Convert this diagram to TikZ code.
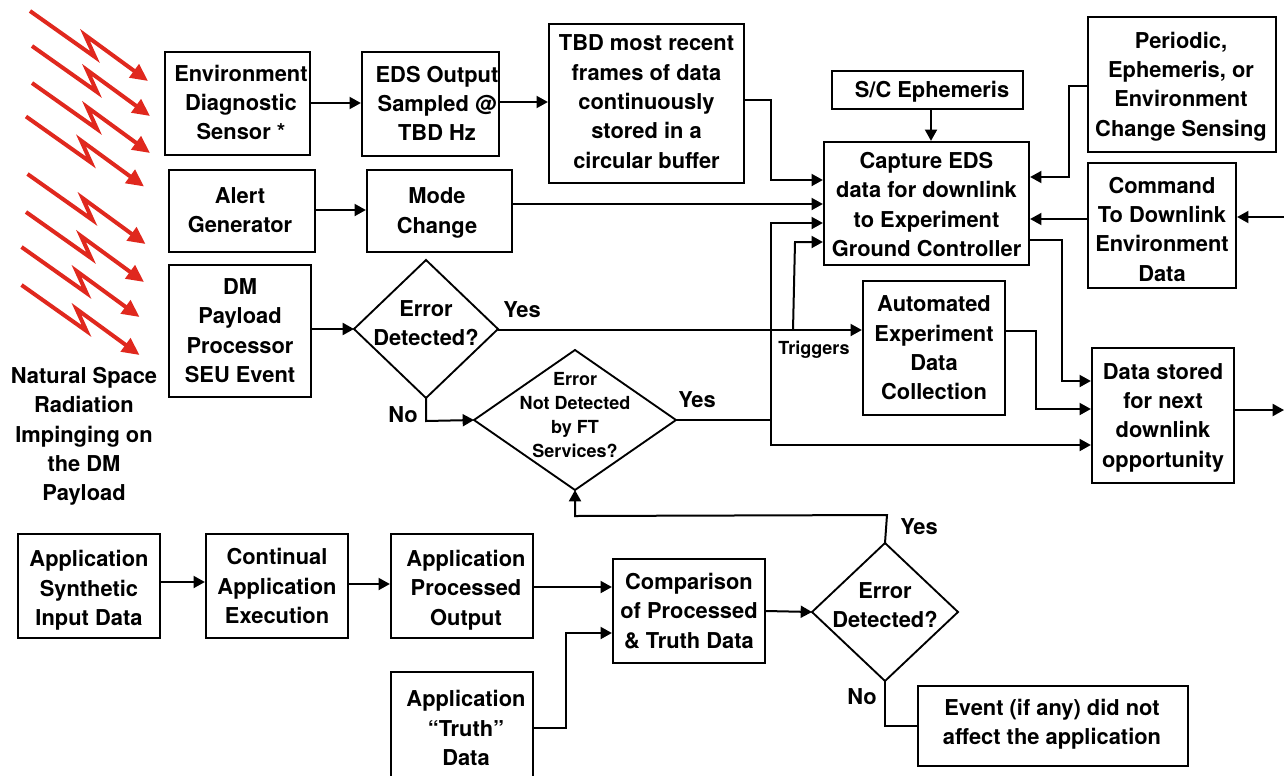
\documentclass[tikz,border=0pt]{standalone}
\usepackage{fontspec}
\setmainfont{TeX Gyre Heros}
\usetikzlibrary{arrows.meta,shapes.geometric}
\definecolor{boltred}{HTML}{E0281E}
\tikzstyle{lbl}=[font=\bfseries\fontsize{16.4}{22}\selectfont,align=center,inner sep=0pt]
\tikzstyle{smalllbl}=[lbl,font=\bfseries\fontsize{13.5}{18}\selectfont]
\tikzstyle{box}=[draw,line width=1.7pt,rectangle,inner sep=0pt,minimum width=\bw*0.75pt,minimum height=\bh*0.75pt]
\tikzstyle{decision}=[draw,line width=1.4pt,diamond,inner sep=0pt,outer sep=0pt]
\tikzstyle{flow} = [draw,line width=1.5pt,-{Triangle[length=8.5pt,width=9pt]}]
\tikzstyle{wire} = [draw,line width=1.5pt]
\tikzstyle{bolt} = [draw=boltred,line width=3pt,line join=miter,-{Triangle[length=13pt,width=12pt]}]
\begin{document}
\begin{tikzpicture}[x=0.75pt,y=-0.75pt]
    \useasboundingbox (0,0) rectangle (1284,775);

    % radiation bolts
    \foreach \dx/ \dy in {0/0, 2/35, 2/72, -4/105.5, -2.5/163, -4/201, -8.5/236, -8.5/274}
        \draw[bolt] (30+\dx,11+\dy) -- (95+\dx,57+\dy) -- (85+\dx,35+\dy) -- (148+\dx,81+\dy);

    \node[lbl] (radiation) at (84,436.5) {Natural Space\\Radiation\\Impinging on\\the DM\\Payload};

    % boxes, then their text
    \foreach \pos/ \name/ \bw/ \bh/ \tpos/ \txt in {
        {(237.5,103.5)/eds/145/103/(241,102.5)/{Environment\\Diagnostic\\Sensor *}},
        {(430.5,104)/edsout/137/104/(437,103.5)/{EDS Output\\Sampled @\\TBD Hz}},
        {(646.5,103.5)/buffer/195/159/(646.5,101.5)/{TBD most recent\\frames of data\\continuously\\stored in a\\circular buffer}},
        {(242,211)/alert/146/82/(240,210)/{Alert\\Generator}},
        {(439.5,211)/mode/145/82/(437,213)/{Mode\\Change}},
        {(240,331)/seu/142/132/(240,330.5)/{DM\\Payload\\Processor\\SEU Event}},
        {(927.5,90)/ephem/191/38/(932,92)/{S/C Ephemeris}},
        {(926.5,203.5)/capture/205/123/(926.5,204.5)/{Capture EDS\\data for downlink\\to Experiment\\Ground Controller}},
        {(1182,84.5)/periodic/188/135/(1181,86.5)/{Periodic,\\Ephemeris, or\\Environment\\Change Sensing}},
        {(1162,225.5)/command/148/125/(1162,229)/{Command\\To Downlink\\Environment\\Data}},
        {(934,348)/automated/142/134/(934,348)/{Automated\\Experiment\\Data\\Collection}},
        {(1163,415.5)/stored/142/135/(1163,417.5)/{Data stored\\for next\\downlink\\opportunity}},
        {(89,586)/input/142/104/(89,590.5)/{Application\\Synthetic\\Input Data}},
        {(277,586)/execution/142/104/(277,586)/{Continual\\Application\\Execution}},
        {(462,586)/processed/142/104/(466,590)/{Application\\Processed\\Output}},
        {(689,611)/comparison/152/104/(689,611)/{Comparison\\of Processed\\\& Truth Data}},
        {(462,725)/truth/142/106/(466,728)/{Application\\“Truth”\\Data}},
        {(1053,726)/event/270/80/(1052,724)/{Event (if any) did not\\affect the application}}}
    {
        \node[box] (\name) at \pos {};
        \node[lbl] (\name txt) at \tpos {\txt};
    }

    % decisions
    \node[decision,aspect=1.04,minimum width=108pt,minimum height=103.5pt] (errora) at (426,329) {};
    \node[decision,aspect=1.44,minimum width=151.5pt,minimum height=105pt] (errorb) at (575,420) {};
    \node[decision,aspect=1.06,minimum width=109.5pt,minimum height=103.5pt] (errorc) at (885,612) {};
    \node[lbl] (erroratxt) at (426,323) {Error\\Detected?};
    \node[smalllbl] (errorbtxt) at (575,415) {Error\\Not Detected\\by FT\\Services?};
    \node[lbl] (errorctxt) at (885,605) {Error\\Detected?};

    % upper connectors
    \path[flow] (eds.east |- 0,103) -- (edsout.west |- 0,103);
    \path[flow] (edsout.east |- 0,102) -- (buffer.west |- 0,102);
    \path[flow] (buffer.east |- 0,100) -- (771,100) -- (771,180) -- (capture.west |- 0,180);
    \path[flow] (alert.east |- 0,210) -- (mode.west |- 0,210);
    \path[flow] (mode.east |- 0,204) -- (capture.west |- 0,204);
    \path[flow] (seu.east |- 0,329) -- (errora.west);
    \path[flow] (ephem.south -| 931,0) -- (capture.north -| 931,0);
    \path[flow] (periodic.west |- 0,86) -- (1069,86) -- (1069,177) -- (capture.east |- 0,177);
    \path[flow] (command.west |- 0,219) -- (capture.east |- 0,219);
    \coordinate (incmd) at (1284,217);
    \path[flow] (incmd) -- (command.east |- incmd);

    % decision connectors
    \path[flow] (errora.east |- 0,330) -- (automated.west |- 0,330);
    \path[flow] (793,330) -- (795,242) -- (capture.west |- 0,242);
    \path[flow] (errora.south) -- (426,421) -- (errorb.west);
    \path[wire] (errorb.east) -- (771,420);
    \path[flow] (771,446) -- (771,223) -- (capture.west |- 0,223);
    \path[flow] (771,445) -- (stored.west |- 0,445);
    \path[flow] (capture.east |- 0,240) -- (1062,240) -- (1062,381) -- (stored.west |- 0,381);
    \path[flow] (automated.east |- 0,331) -- (1036,331) -- (1036,409) -- (stored.west |- 0,409);
    \coordinate (outstored) at (1284,410);
    \path[flow] (stored.east |- outstored) -- (outstored);

    % lower connectors
    \path[flow] (input.east |- 0,582) -- (execution.west |- 0,582);
    \path[flow] (execution.east |- 0,584) -- (processed.west |- 0,584);
    \path[flow] (processed.east |- 0,587) -- (comparison.west |- 0,587);
    \path[flow] (truth.east |- 0,728) -- (566,728) -- (566,633) -- (comparison.west |- 0,633);
    \path[flow] (comparison.east) -- (errorc.west);
    \path[flow] (errorc.north) -- (887,515) -- (575,516) -- (errorb.south);
    \path[wire] (errorc.south) -- (885,726) -- (event.west |- 0,726);

    % branch labels
    \node[lbl] (yesa) at (522,310) {Yes};
    \node[lbl] (noa) at (403,415) {No};
    \node[lbl] (yesb) at (697,400) {Yes};
    \node[lbl] (yesc) at (919,527) {Yes};
    \node[lbl] (noc) at (862,697) {No};
    \node[smalllbl] (triggers) at (814,350) {Triggers};
\end{tikzpicture}
\end{document}
